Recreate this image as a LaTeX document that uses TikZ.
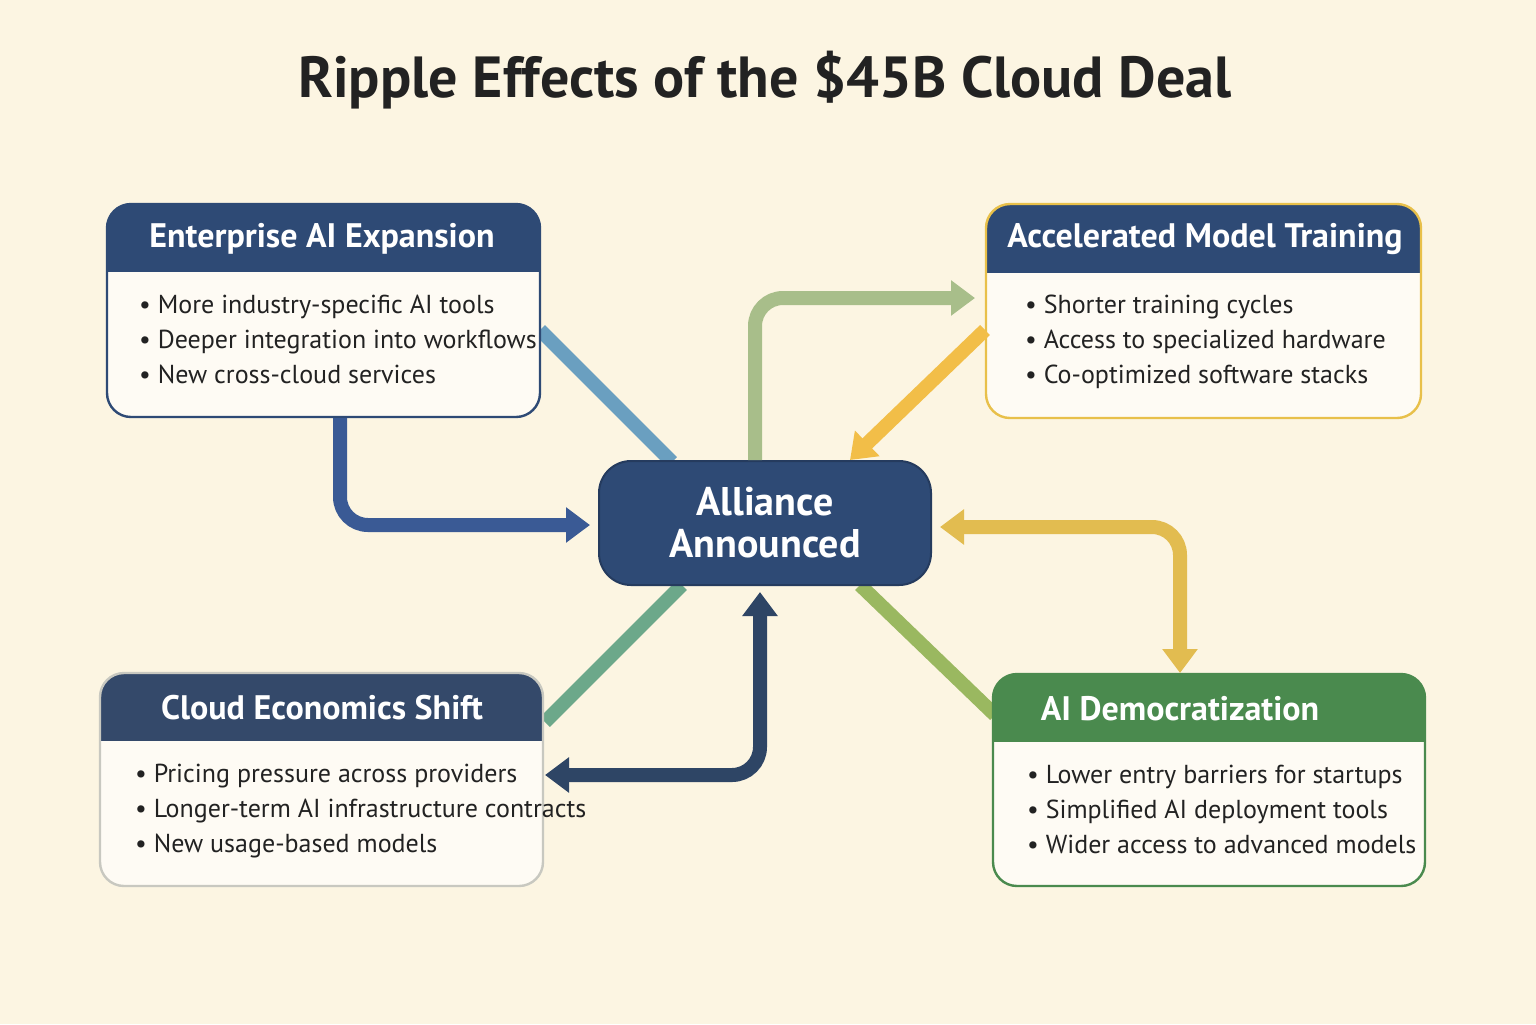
\documentclass[tikz,border=0pt]{standalone}
\usepackage{fontspec}
\setmainfont{PT Sans}
\usetikzlibrary{arrows.meta}
\definecolor{bg}{HTML}{FCF5E2}
\definecolor{navy}{HTML}{2E4A75}
\definecolor{navyb}{HTML}{34496A}
\definecolor{ink}{HTML}{222222}
\definecolor{ylw}{HTML}{E8C04A}
\definecolor{grn}{HTML}{4A8A4E}
\definecolor{gry}{HTML}{C8C8C0}
\definecolor{cBlue}{HTML}{6A9FC0}
\definecolor{cDark}{HTML}{3A5A95}
\definecolor{cSage}{HTML}{A8BE8A}
\definecolor{cYel}{HTML}{F2BE48}
\definecolor{cGold}{HTML}{E2BC50}
\definecolor{cGrn}{HTML}{9AB860}
\definecolor{cTeal}{HTML}{6CA88A}
\definecolor{cNavy}{HTML}{2E4565}
\tikzset{
 conn/.style={line width=7pt,rounded corners=14pt},
 tip/.style={-{Triangle[length=12pt,width=17pt]}},
 tips/.style={{Triangle[length=12pt,width=17pt]}-{Triangle[length=12pt,width=17pt]}},
 htext/.style={text=white,font=\bfseries\fontsize{17}{20}\selectfont,anchor=center},
 btext/.style={text=ink,font=\fontsize{13}{17.5}\selectfont,anchor=north west,align=left},
}
\newcommand{\mybox}[7]{% x1 y1 x2 y2 header-bottom headercolor bordercolor
 \fill[white!60!bg,rounded corners=12pt] (#1,#2) rectangle (#3,#4);
 \begin{scope}
 \clip[rounded corners=12pt] (#1,#2) rectangle (#3,#4);
 \fill[#6] (#1,#2) rectangle (#3,#5);
 \end{scope}
 \draw[#7,line width=1.2pt,rounded corners=12pt] (#1,#2) rectangle (#3,#4);
}
\begin{document}
\begin{tikzpicture}[x=0.5pt,y=-0.5pt]
\fill[bg] (0,0) rectangle (1536,1024);
\useasboundingbox (0,0) rectangle (1536,1024);
\node[text=ink,font=\bfseries\fontsize{29}{34}\selectfont] (title) at (765,80) {Ripple Effects of the \$45B Cloud Deal};

% connectors below boxes
\coordinate (a1) at (540,330); \coordinate (a2) at (672,462);
\draw[conn,cBlue] (a1) -- (a2);
\coordinate (g1) at (545,722); \coordinate (g2) at (682,585);
\draw[conn,cTeal] (g1) -- (g2);
\coordinate (h1) at (860,585); \coordinate (h2) at (995,715);
\draw[conn,cGrn] (h1) -- (h2);

\mybox{107}{204}{540}{417}{272}{navy}{navy}
\mybox{986}{204}{1421}{418}{273}{navy}{ylw}
\mybox{100}{673}{543}{886}{741}{navyb}{gry}
\mybox{993}{674}{1425}{886}{742}{grn}{grn}

\node[htext] (e) at (322,239) {Enterprise AI Expansion};
\node[btext] (eb) at (132,288) {• More industry-specific AI tools\\• Deeper integration into workflows\\• New cross-cloud services};
\node[htext] (m) at (1205,239) {Accelerated Model Training};
\node[btext] (mb) at (1018,288) {• Shorter training cycles\\• Access to specialized hardware\\• Co-optimized software stacks};
\node[htext] (c) at (322,708) {Cloud Economics Shift};
\node[btext] (cb) at (128,757) {• Pricing pressure across providers\\• Longer-term AI infrastructure contracts\\• New usage-based models};
\node[htext] (d) at (1180,709) {AI Democratization};
\node[btext] (db) at (1020,758) {• Lower entry barriers for startups\\• Simplified AI deployment tools\\• Wider access to advanced models};

% center
\fill[navy,rounded corners=16pt] (599,461) rectangle (931,585);
\draw[navy!80!black,line width=1pt,rounded corners=16pt] (599,461) rectangle (931,585);
\node[text=white,font=\bfseries\fontsize{20}{21}\selectfont,align=center] (ctr) at (765,523) {Alliance\\Announced};

% arrows
\coordinate (b1) at (340,418); \coordinate (b2) at (340,525); \coordinate (b3) at (590,525);
\draw[conn,cDark,tip] (b1) -- (b2) -- (b3);
\coordinate (s1) at (755,460); \coordinate (s2) at (755,298); \coordinate (s3) at (975,298);
\draw[conn,cSage,tip] (s1) -- (s2) -- (s3);
\coordinate (y1) at (985,330); \coordinate (y2) at (850,460);
\draw[conn,cYel,tip] (y1) -- (y2);
\coordinate (d1) at (940,527); \coordinate (d2) at (1180,527); \coordinate (d3) at (1180,673);
\draw[conn,cGold,tips] (d1) -- (d2) -- (d3);
\coordinate (n1) at (545,775); \coordinate (n2) at (760,775); \coordinate (n3) at (760,592);
\draw[conn,cNavy,tips] (n1) -- (n2) -- (n3);
\end{tikzpicture}
\end{document}
